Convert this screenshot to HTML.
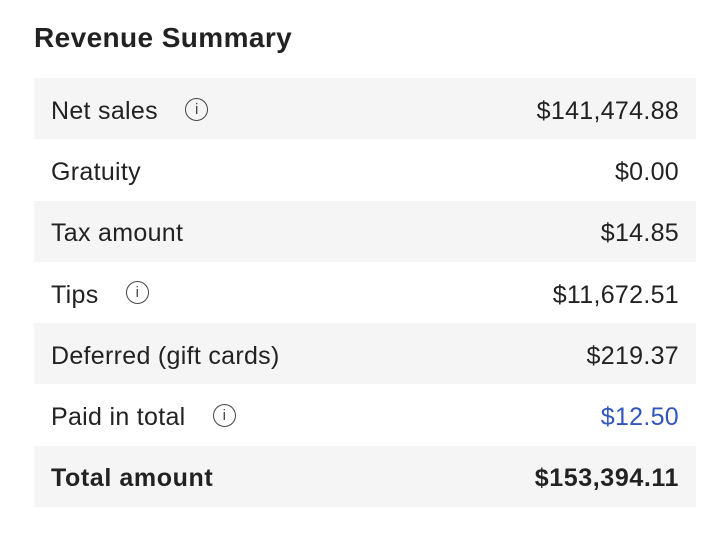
<!DOCTYPE html>
<html><head><style>
body{margin:0;width:726px;height:540px;background:#fff;font-family:"Liberation Sans",sans-serif;color:#222;overflow:hidden}
h1{position:absolute;left:34px;top:22px;margin:0;font-size:28px;font-weight:bold;letter-spacing:0.4px}
.t{position:absolute;left:34px;top:78px;width:662px}
.r{height:61.3px;display:flex;align-items:center;justify-content:space-between;padding:5px 17px 0;box-sizing:border-box;font-size:25px;letter-spacing:0.3px}
.s{background:#f5f5f5}
.i{display:inline-block;width:21px;height:21px;border:1.6px solid #444;border-radius:50%;font-size:15px;text-align:center;line-height:21px;vertical-align:middle;margin-left:20px;color:#444;position:relative;top:-3px;letter-spacing:0}
.b{font-weight:bold;letter-spacing:0.6px}
</style></head><body>
<h1>Revenue Summary</h1>
<div class="t">
<div class="r s"><span>Net sales <span class="i">i</span></span><span>$141,474.88</span></div>
<div class="r"><span>Gratuity</span><span>$0.00</span></div>
<div class="r s"><span>Tax amount</span><span>$14.85</span></div>
<div class="r"><span>Tips <span class="i">i</span></span><span>$11,672.51</span></div>
<div class="r s"><span>Deferred (gift cards)</span><span>$219.37</span></div>
<div class="r"><span>Paid in total <span class="i">i</span></span><span style="color:#3355bb">$12.50</span></div>
<div class="r s b"><span>Total amount</span><span>$153,394.11</span></div>
</div>
</body></html>
